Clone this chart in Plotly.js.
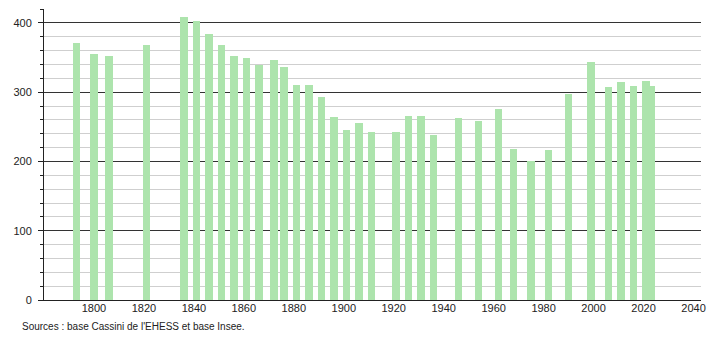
<!DOCTYPE html>
<html>
<head>
<meta charset="utf-8">
<script src="https://cdn.plot.ly/plotly-3.0.1.min.js"></script>
<style>
html,body{margin:0;padding:0;background:#fff;}
#chart{width:710px;height:340px;}
</style>
</head>
<body>
<div id="chart"></div>
<script>
const years = [1793,1800,1806,1821,1836,1841,1846,1851,1856,1861,1866,1872,1876,1881,1886,1891,1896,1901,1906,1911,1921,1926,1931,1936,1946,1954,1962,1968,1975,1982,1990,1999,2006,2011,2016,2021,2023];
const population = [371,355,352,368,408,402,384,368,352,350,339,346,336,311,311,293,264,246,255,242,242,265,265,238,262,259,275,218,200,216,297,343,308,314,309,316,309];
const yTicks = [0,100,200,300,400];
const xTicks = [1800,1820,1840,1860,1880,1900,1920,1940,1960,1980,2000,2020,2040];
const sourceText = "Sources : base Cassini de l'EHESS et base Insee.";

const trace = {
  type: 'bar',
  x: years,
  y: population,
  width: years.map(() => 3),
  marker: {color: 'rgb(173,228,173)', line: {width: 0}},
  hoverinfo: 'x+y'
};

const layout = {
  width: 710, height: 340,
  margin: {l: 44, r: 9, t: 9.4, b: 40},
  paper_bgcolor: '#fff', plot_bgcolor: '#fff',
  font: {family: 'Liberation Sans, Arial, sans-serif', size: 11, color: '#222'},
  showlegend: false,
  bargap: 0,
  xaxis: {
    range: [1780, 2043],
    tickvals: xTicks, ticktext: xTicks.map(String),
    showgrid: false, zeroline: false,
    showline: true, linecolor: '#222', linewidth: 1,
    ticks: '', tickfont: {size: 11, color: '#222'},
    ticklabelstandoff: -2
  },
  yaxis: {
    range: [0, 420],
    tickvals: yTicks, ticktext: yTicks.map(String),
    showgrid: true, gridcolor: '#333', gridwidth: 1,
    zeroline: false,
    showline: true, linecolor: '#222', linewidth: 1,
    ticks: 'outside', ticklen: 5, tickcolor: '#222', tickwidth: 1,
    tickfont: {size: 11, color: '#222'},
    ticklabelstandoff: 4,
    minor: {dtick: 20, tick0: 0, showgrid: true, gridcolor: '#cfcfcf', gridwidth: 1, ticks: 'outside', ticklen: 3, tickcolor: '#222'}
  },
  annotations: [{
    xref: 'paper', yref: 'paper',
    x: -24/657, y: -26/290.6,
    xanchor: 'left', yanchor: 'middle',
    text: sourceText, showarrow: false,
    font: {size: 10, color: '#222'}
  }]
};

Plotly.newPlot('chart', [trace], layout, {displayModeBar: false, staticPlot: true});
</script>
</body>
</html>
